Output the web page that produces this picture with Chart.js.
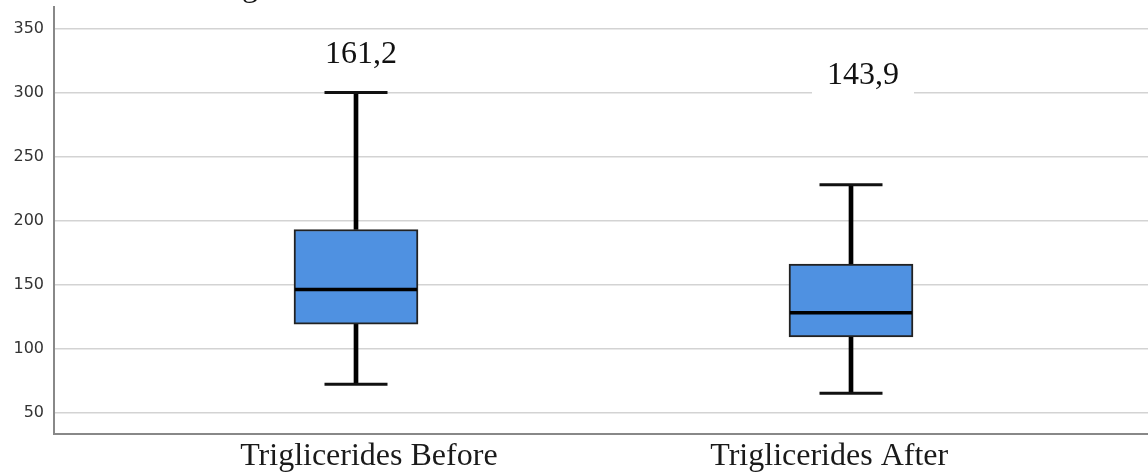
<!DOCTYPE html>
<html>
<head>
<meta charset="utf-8">
<script src="https://cdn.jsdelivr.net/npm/chart.js@4.4.1/dist/chart.umd.min.js"></script>
<style>
  html, body { margin: 0; padding: 0; background: #ffffff; }
  #wrap { width: 1148px; height: 475px; position: relative; }
</style>
</head>
<body>
<div id="wrap"><canvas id="c" width="1148" height="475"></canvas></div>
<script>
// ---- data ----
const categories = ['Triglicerides Before', 'Triglicerides After'];
const whiskerMin = [72, 65];
const q1Values = [119, 109];
const medianValues = [146, 128];
const q3Values = [193, 166];
const whiskerMax = [300, 228];
const meanLabels = ['161,2', '143,9'];
const yTickValues = [50, 100, 150, 200, 250, 300, 350];

const idx = categories.map((_, i) => i);
const boxData = idx.map(i => ({ x: i, y: [q1Values[i], q3Values[i]] }));
const upperWhisker = idx.map(i => ({ x: i, y: [q3Values[i], whiskerMax[i]] }));
const lowerWhisker = idx.map(i => ({ x: i, y: [whiskerMin[i], q1Values[i]] }));
const capData = idx.flatMap(i => [{ x: i, y: whiskerMin[i] }, { x: i, y: whiskerMax[i] }]);
const medianData = idx.map(i => ({ x: i, y: medianValues[i] }));

// label placement (styling/positions kept in options, not in data)
const labelTickPos = [0.026, 0.956];
const meanLabelPlacement = { dx: [5, 12], baselineValue: [323, 306.6] };

const zeroPad = s => { s.paddingLeft = 0; s.paddingRight = 0; s.paddingTop = 0; s.paddingBottom = 0; };

const overlayPlugin = {
  id: 'overlay',
  afterDatasetsDraw(chart) {
    const ctx = chart.ctx;
    const xs = chart.scales.x, ys = chart.scales.y;
    ctx.save();
    ctx.font = '32px "Liberation Serif", "Times New Roman", serif';
    ctx.textAlign = 'center';
    ctx.textBaseline = 'alphabetic';
    meanLabels.forEach((t, i) => {
      const cx = xs.getPixelForValue(i) + meanLabelPlacement.dx[i];
      const by = ys.getPixelForValue(meanLabelPlacement.baselineValue[i]);
      const w = ctx.measureText(t).width;
      ctx.fillStyle = '#ffffff';
      ctx.fillRect(cx - w / 2 - 15, by - 26, w + 30, 36);
      ctx.fillStyle = '#111111';
      ctx.fillText(t, cx, by);
    });
    // fragment of cropped title at very top
    ctx.textAlign = 'left';
    ctx.fillStyle = '#111111';
    ctx.fillText('g', 242, -4);
    ctx.restore();
  }
};

new Chart(document.getElementById('c'), {
  type: 'bar',
  data: {
    datasets: [
      { type: 'bar', data: upperWhisker, grouped: false, barThickness: 4,
        backgroundColor: '#000000', borderWidth: 0, order: 3 },
      { type: 'bar', data: lowerWhisker, grouped: false, barThickness: 4,
        backgroundColor: '#000000', borderWidth: 0, order: 3 },
      { type: 'bar', data: boxData, grouped: false, barThickness: 124,
        backgroundColor: '#4f91e1', borderColor: '#222222', borderWidth: 2,
        borderSkipped: false, order: 2 },
      { type: 'line', data: capData, showLine: false, pointStyle: 'line',
        pointRadius: 31.5, pointBorderWidth: 3, pointBorderColor: '#111111',
        pointBackgroundColor: '#111111', order: 1 },
      { type: 'line', data: medianData, showLine: false, pointStyle: 'line',
        pointRadius: 61, pointBorderWidth: 3.5, pointBorderColor: '#000000',
        pointBackgroundColor: '#000000', order: 0 }
    ]
  },
  options: {
    responsive: false,
    animation: false,
    layout: { autoPadding: false, padding: { top: 7, right: 0, left: 0, bottom: 0 } },
    plugins: { legend: { display: false }, tooltip: { enabled: false } },
    scales: {
      x: {
        type: 'linear',
        min: -0.6101,
        max: 1.6,
        offset: false,
        afterBuildTicks: s => { s.ticks = labelTickPos.map(v => ({ value: v })); },
        afterFit: s => { s.height = 41; zeroPad(s); },
        grid: { display: false, drawTicks: false },
        border: { display: true, color: '#888888', width: 2 },
        ticks: {
          autoSkip: false,
          maxRotation: 0,
          minRotation: 0,
          padding: 3,
          color: '#1a1a1a',
          font: { family: '"Liberation Serif", "Times New Roman", serif', size: 32 },
          callback: (v, i) => categories[i]
        }
      },
      y: {
        type: 'linear',
        min: 33.2,
        max: 366.8,
        afterBuildTicks: s => { s.ticks = yTickValues.map(v => ({ value: v })); },
        afterFit: s => { s.width = 54; zeroPad(s); },
        grid: { color: '#d3d3d3', lineWidth: 1.6, drawTicks: false },
        border: { display: true, color: '#888888', width: 2 },
        ticks: {
          padding: 10,
          color: '#333333',
          font: { family: '"DejaVu Sans", sans-serif', size: 16 }
        }
      }
    }
  },
  plugins: [overlayPlugin]
});
</script>
</body>
</html>
